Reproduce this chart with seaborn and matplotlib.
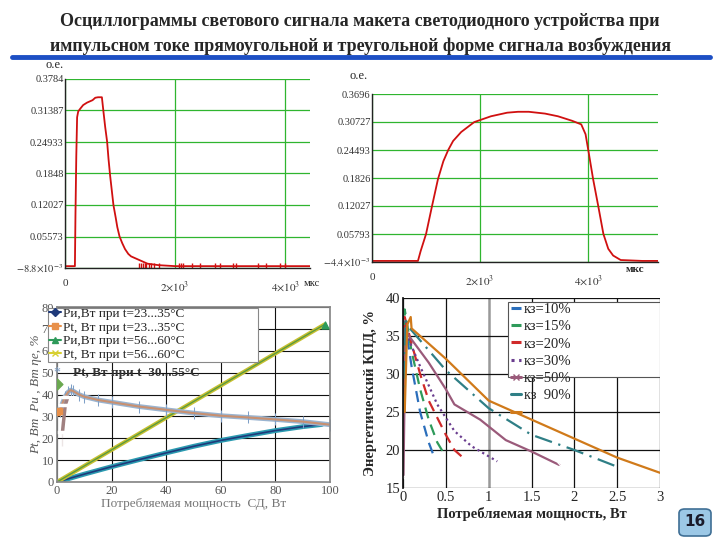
import numpy as np
import matplotlib.pyplot as plt
import seaborn as sns
from matplotlib.lines import Line2D
from matplotlib.patches import FancyBboxPatch, Rectangle

# --- oscillogram 1 (rectangular pulse)
t_rect = [0, 180, 190, 205, 220, 240, 280, 330, 400, 500, 550, 600, 670, 700, 730, 765, 790,
          820, 850, 880, 920, 950, 990, 1040, 1090, 1150, 1200, 1300, 1400, 1500, 1700, 2000,
          3000, 4000, 4450]
v_rect = [-0.005, -0.005, 0.1, 0.22, 0.3, 0.312, 0.318, 0.325, 0.33, 0.335, 0.34, 0.341, 0.341,
          0.31, 0.28, 0.25, 0.215, 0.18, 0.15, 0.12, 0.095, 0.075, 0.056, 0.042, 0.03, 0.02,
          0.015, 0.01, 0.005, 0.0, -0.003, -0.005, -0.005, -0.005, -0.005]
noise_t = [1350, 1380, 1420, 1450, 1480, 1530, 1560, 1620, 1700, 2070, 2100, 2150, 2300, 2450,
           2720, 2820, 3060, 3100, 3500, 3650, 3900, 4000]
yt_rect = [-0.0088, 0.05573, 0.12027, 0.1848, 0.24933, 0.31387, 0.3784]
yl_rect = ['$-8.8{\\times}10^{-3}$', '0.05573', '0.12027', '0.1848', '0.24933', '0.31387', '0.3784']

# --- oscillogram 2 (triangular pulse)
t_tri = [0, 500, 850, 900, 1000, 1110, 1220, 1320, 1410, 1500, 1650, 1890, 2200, 2500, 2700,
         2900, 3200, 3440, 3700, 3870, 3950, 4000, 4090, 4185, 4280, 4370, 4460, 4600, 5000, 5290]
v_tri = [-0.002, -0.002, -0.002, 0.02, 0.058, 0.12, 0.18, 0.22, 0.245, 0.265, 0.285, 0.307,
         0.32, 0.328, 0.33, 0.33, 0.326, 0.32, 0.31, 0.302, 0.28, 0.245, 0.18, 0.12, 0.058,
         0.025, 0.01, 0.0, -0.002, -0.002]
yt_tri = [-0.0044, 0.05793, 0.12027, 0.1826, 0.24493, 0.30727, 0.3696]
yl_tri = ['$-4.4{\\times}10^{-3}$', '0.05793', '0.12027', '0.1826', '0.24493', '0.30727', '0.3696']
xt_osc = [0, 2000, 4000]
xl_osc = ['0', '$2{\\times}10^3$', '$4{\\times}10^3$']

# --- power chart
p_low_x = [0, 5, 10, 20, 30, 40, 50, 60, 70, 80, 90, 97]
p_low_y = [0, 1.8, 3.6, 7, 10.2, 13.3, 16.3, 19, 21.3, 23.5, 25.3, 26.3]
p_high_x = [0, 20, 40, 60, 80, 98]
p_high_y = [0, 14.7, 29.4, 44.1, 58.8, 72]
p_eff_x = [0, 1, 2, 3, 4, 5, 6, 8, 10, 15, 20, 30, 40, 50, 60, 70, 80, 90, 100]
p_eff_y = [32, 32.5, 36, 39, 41, 42, 41.5, 40, 39, 37.5, 36.5, 34.5, 33, 31.5, 30.3, 29.5,
           28.6, 27.6, 26.2]
p_rake_x = [2, 2, 2, 2, 3, 4]
p_rake_y = [13, 22, 26, 30, 35, 39]
leg_power = ['Ри,Вт при t=23...35°С', 'Pt, Вт при t=23...35°С',
             'Ри,Вт при t=56...60°С', 'Pt, Вт при t=56...60°С']
leg_power_extra = 'Рt, Вт при t  30...55°С'

# --- efficiency chart
kz_labels = ['кз=10%', 'кз=15%', 'кз=20%', 'кз=30%', 'кз=50%', 'кз  90%', ' ']
kz_x = [
    [0.01, 0.02, 0.1, 0.2, 0.3, 0.35],
    [0.01, 0.02, 0.1, 0.2, 0.3, 0.4, 0.48],
    [0.01, 0.02, 0.1, 0.2, 0.3, 0.5, 0.6, 0.7],
    [0.01, 0.05, 0.2, 0.4, 0.6, 0.8, 1.1],
    [0.005, 0.03, 0.07, 0.3, 0.5, 0.6, 0.9, 1.2, 1.5, 1.83],
    [0.01, 0.03, 0.08, 0.5, 1.0, 1.5, 2.0, 2.5],
    [0.02, 0.05, 0.09, 0.1, 0.5, 1.0, 1.1, 1.5, 2.0, 2.5, 3.0],
]
kz_y = [
    [30, 37, 31, 25, 21, 19.5],
    [33, 38.5, 33, 28, 24, 21, 19.5],
    [35, 37.5, 34, 30, 26.5, 22, 20, 19],
    [34, 35, 31, 26, 22.5, 20.5, 18.5],
    [16.5, 36, 35, 31.5, 28, 26, 24, 21.3, 19.8, 18],
    [25, 37, 36, 30.5, 25.5, 22, 20, 17.8],
    [25, 36.5, 37.5, 36, 32, 26.5, 26, 24, 21.5, 19, 17],
]
kz_colors = ['#2a6ebb', '#2e9a5a', '#d02a2a', '#6a3d8f', '#9a5a7a', '#2f7f86', '#d07a1a']

sns.set_theme(style='white')
plt.rcParams['font.family'] = ['Liberation Serif', 'DejaVu Serif']
plt.rcParams['mathtext.fontset'] = 'stix'

fig = plt.figure(figsize=(7.2, 5.4), dpi=100)
W, H = 720, 540


def fax(l, t, r, b):
    return fig.add_axes([l / W, 1 - b / H, (r - l) / W, (b - t) / H])


fig.text(0.5, 1 - 22 / H, 'Осциллограммы светового сигнала макета светодиодного устройства при',
         ha='center', va='center', fontsize=13, fontweight='bold')
fig.text(0.5, 1 - 46 / H, 'импульсном токе прямоугольной и треугольной форме сигнала возбуждения',
         ha='center', va='center', fontsize=13, fontweight='bold')
fig.add_artist(Line2D([12 / W, 710 / W], [1 - 57 / H, 1 - 57 / H], color='#1d4fc4', lw=3.5))


def osc(ax, t, v, xmax, yt, yl):
    sns.lineplot(x=t, y=v, ax=ax, color='#d01010', lw=1.3, sort=False)
    ax.set_xlim(0, xmax)
    ax.set_ylim(yt[0], yt[-1])
    ax.set_yticks(yt)
    ax.set_yticklabels(yl, fontsize=7.5, color='#333333')
    ax.set_xticks(xt_osc)
    ax.set_xticklabels(xl_osc, fontsize=8, color='#333333')
    ax.tick_params(axis='x', pad=8, length=0)
    ax.tick_params(axis='y', length=0, pad=1)
    ax.grid(True, color='#2fb52f', lw=0.9)
    for s in ['top', 'right']:
        ax.spines[s].set_visible(False)
    for s in ['left', 'bottom']:
        ax.spines[s].set_color('#222222')
        ax.spines[s].set_linewidth(1.0)


ax1 = fax(65, 79, 310, 268)
osc(ax1, t_rect, v_rect, 4450, yt_rect, yl_rect)
sns.scatterplot(x=noise_t, y=[-0.004] * len(noise_t), ax=ax1, marker='|', color='#d01010',
                s=20, linewidth=1)
fig.text(45 / W, 1 - 65 / H, 'о.е.', fontsize=9, va='center')
fig.text(304 / W, 1 - 283 / H, 'мкс', fontsize=7.5, va='center')

ax2 = fax(372, 94, 658, 262)
osc(ax2, t_tri, v_tri, 5290, yt_tri, yl_tri)
fig.text(350 / W, 1 - 76 / H, 'о.е.', fontsize=9, va='center')
fig.text(626 / W, 1 - 270 / H, 'мкс', fontsize=8, va='center', fontweight='bold')

# --- bottom left
ax3 = fax(57, 307, 330, 482)
sns.lineplot(x=p_low_x, y=p_low_y, ax=ax3, color='#2a9ab0', lw=3.5, sort=False)
sns.lineplot(x=p_low_x, y=p_low_y, ax=ax3, color='#1f3a7a', lw=1.2, sort=False)
sns.lineplot(x=p_high_x, y=p_high_y, ax=ax3, color='#c8c030', lw=3.0, sort=False)
sns.lineplot(x=p_high_x, y=p_high_y, ax=ax3, color='#5a9a40', lw=1.0, sort=False)
sns.lineplot(x=p_eff_x, y=p_eff_y, ax=ax3, color='#9ab4d0', lw=3.5, sort=False,
             marker='|', markersize=9, markeredgecolor='#7fa0c8')
sns.lineplot(x=p_eff_x, y=p_eff_y, ax=ax3, color='#c89070', lw=1.5, sort=False)
sns.lineplot(x=p_rake_x, y=p_rake_y, ax=ax3, color='#a08080', lw=2.5, sort=False,
             marker='_', markersize=10, markeredgewidth=2.5)
ax3.scatter([0], [45], marker='D', color='#6aa84f', s=30, zorder=5)
ax3.scatter([0, 0.8], [32, 32.5], marker='s', color='#e8904a', s=25, zorder=5)
ax3.scatter([98], [72], marker='^', color='#2e9a5a', s=25, zorder=5)
ax3.set_xlim(0, 100)
ax3.set_ylim(0, 80)
ax3.set_xticks(range(0, 101, 20))
ax3.set_yticks(range(0, 81, 10))
ax3.tick_params(labelsize=9, labelcolor='#555555', length=0, pad=2)
ax3.grid(True, color='#111111', lw=0.8)
for s in ax3.spines.values():
    s.set_color('#888888')
ax3.set_xlabel('Потребляемая мощность  СД, Вт', fontsize=9.5, color='#777777', labelpad=1)
ax3.set_ylabel('Pt, Вт  Ри , Вт ηe, %', fontsize=9.5, color='#555555', style='italic', labelpad=0)
ax3.add_patch(Rectangle((-0.033, 0.686), 0.77, 0.31, transform=ax3.transAxes, facecolor='white',
                        edgecolor='#888888', lw=0.8, zorder=3, clip_on=False))
handles3 = [
    Line2D([], [], color='#1f3a7a', marker='D', markersize=4),
    Line2D([], [], color='#e8904a', marker='s', markersize=5),
    Line2D([], [], color='#2e9a5a', marker='^', markersize=5),
    Line2D([], [], color='#d8d030', marker='x', markersize=5),
]
leg3 = ax3.legend(handles3, leg_power, loc='upper left', bbox_to_anchor=(-0.03, 0.995),
                  borderaxespad=0, fontsize=9.5, frameon=False, handlelength=0.9,
                  handletextpad=0.2, labelspacing=0.1, borderpad=0)
leg3.set_zorder(4)
ax3.text(0.06, 0.625, leg_power_extra, transform=ax3.transAxes, fontsize=9.5,
         va='center', color='#333333', fontweight='bold')
ax3.text(-0.015, 0.625, '*', transform=ax3.transAxes, fontsize=10, va='center', color='#7fa0c8')

# --- bottom right
ax4 = fax(403, 298, 660, 488)
styles = [(0, (5, 3)), (0, (5, 3)), (0, (5, 3)), (0, (1, 1.5)), '-', (0, (8, 3, 1, 3)), '-']
for i in range(len(kz_x)):
    kw = dict(marker='x', markersize=5, markevery=[0, len(kz_x[i]) - 1]) if i == 4 else {}
    sns.lineplot(x=kz_x[i], y=kz_y[i], ax=ax4, color=kz_colors[i], lw=1.6, sort=False,
                 linestyle=styles[i], **kw)
ax4.set_xlim(0, 3)
ax4.set_ylim(15, 40)
ax4.set_xticks([0, 0.5, 1, 1.5, 2, 2.5, 3])
ax4.set_xticklabels(['0', '0.5', '1', '1.5', '2', '2.5', '3'])
ax4.set_yticks(range(15, 41, 5))
ax4.tick_params(labelsize=10.5, length=0, pad=2)
ax4.grid(True, color='#111111', lw=0.9)
ax4.get_xgridlines()[2].set_color('#999999')
ax4.get_xgridlines()[2].set_linewidth(1.8)
for s in ax4.spines.values():
    s.set_visible(False)
ax4.spines['left'].set_visible(True)
ax4.spines['left'].set_color('#111111')
ax4.set_xlabel('Потребляемая мощность, Вт', fontsize=10.5, fontweight='bold', labelpad=2)
ax4.set_ylabel('Энергетический КПД, %', fontsize=10.5, fontweight='bold', labelpad=6)
ax4.add_patch(Rectangle((0.41, 0.584), 0.59, 0.395, transform=ax4.transAxes, facecolor='white',
                        edgecolor='#555555', lw=0.8, zorder=3))
handles4 = [Line2D([], [], color=kz_colors[i], lw=2.2, linestyle=styles[i] if i < 4 else '-',
                   marker='x' if i == 4 else None, markersize=5) for i in range(7)]
leg4 = ax4.legend(handles4, kz_labels, loc='upper left', bbox_to_anchor=(0.42, 0.975),
                  frameon=False, fontsize=10.5, handlelength=0.7, handletextpad=0.2,
                  labelspacing=0.28, borderaxespad=0, borderpad=0)
leg4.set_zorder(4)

# page number badge
fig.add_artist(FancyBboxPatch((679 / W, 1 - 536 / H), 32 / W, 27 / H,
                              boxstyle='round,pad=0,rounding_size=0.008',
                              facecolor='#9cc8e6', edgecolor='#3f6f95', lw=1.2,
                              transform=fig.transFigure))
fig.text(695 / W, 1 - 522 / H, '16', ha='center', va='center', fontsize=11, fontweight='bold',
         family='DejaVu Sans', color='#1a1a2a')

fig.savefig('out.png', dpi=100)
